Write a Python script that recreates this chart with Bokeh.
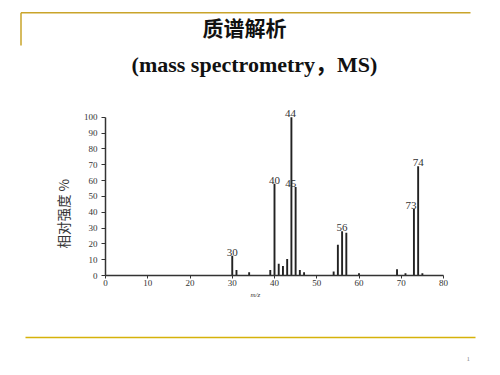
import math
from bokeh.plotting import figure
from bokeh.models import Range1d, Label, ColumnDataSource, LabelSet, FixedTicker, Title
from bokeh.layouts import column, row
from bokeh.core.properties import value
from bokeh.embed import file_html
from bokeh.resources import INLINE

# ---- data ----
mz = [30, 31, 34, 39, 40, 41, 42, 43, 44, 45, 46, 47, 54, 55, 56, 57, 60, 69, 71, 73, 74, 75]
intensity = [12.5, 3.5, 2, 3.5, 58, 7.5, 6, 10.5, 100, 56, 3.5, 2, 2.5, 19.5, 28, 27, 1.5, 4, 1.5, 42, 69, 1.5]
peak_labels = ["30", "40", "44", "45", "56", "73", "74"]
peak_label_mz = [30, 40, 44, 45, 56, 73, 74]
peak_label_int = [12.5, 58, 100, 56, 28, 42, 69]
x_ticks = [0, 10, 20, 30, 40, 50, 60, 70, 80]
y_ticks = [0, 10, 20, 30, 40, 50, 60, 70, 80, 90, 100]
title_text = "质谱解析"
subtitle_text = "(mass spectrometry，MS)"
y_label_text = "相对强度 %"
x_label_text = "m/z"
page_number = "1"

W = 500
GOLD = "#C9A42A"
YELLOW = "#D6B20A"

def blank(height, y0, y1):
    f = figure(width=W, height=height, x_range=Range1d(0, W), y_range=Range1d(y1, y0),
               output_backend="svg", toolbar_location=None, min_border=0)
    f.axis.visible = False
    f.grid.visible = False
    f.outline_line_color = None
    f.background_fill_color = "white"
    f.border_fill_color = "white"
    return f

# ---- header ----
header = blank(95, 0, 95)
header.segment(x0=[20.5, 20.5], y0=[12.3, 12.3], x1=[470, 20.5], y1=[12.3, 45],
               line_color=GOLD, line_width=1.5)
header.add_layout(Label(x=244, y=26, text=title_text, text_font="Noto Sans CJK SC",
                       text_font_size="21px", text_font_style="bold", text_align="center",
                       text_baseline="middle", text_color="#111111"))
header.add_layout(Label(x=254, y=64, text=subtitle_text,
                       text_font="Liberation Serif, Noto Sans CJK SC",
                       text_font_size="22px", text_font_style="bold", text_align="center",
                       text_baseline="middle", text_color="#111111"))

# ---- chart ----
p = figure(width=W, height=210, x_range=Range1d(0, 80), y_range=Range1d(0, 110),
           output_backend="svg", toolbar_location=None,
           min_border_left=105, min_border_right=57, min_border_top=6, min_border_bottom=30)
p.grid.visible = False
p.outline_line_color = None
p.background_fill_color = "white"
p.border_fill_color = "white"

src = ColumnDataSource(dict(mz=mz, y0=[0] * len(mz), inten=intensity))
p.segment(x0="mz", y0="y0", x1="mz", y1="inten", source=src, line_color="#222222", line_width=1.9)

lsrc = ColumnDataSource(dict(x=peak_label_mz, y=peak_label_int, t=peak_labels,
                             dx=[0, 0, -1, -5, 0, -3, 0]))
p.add_layout(LabelSet(x="x", y="y", text="t", x_offset="dx", y_offset=0, source=lsrc,
                      text_font=value("Liberation Serif"), text_font_size="11px",
                      text_align="center", text_baseline="bottom", text_color="#333333"))

p.xaxis.ticker = FixedTicker(ticks=x_ticks)
p.yaxis.ticker = FixedTicker(ticks=y_ticks)
p.yaxis.bounds = (0, 100)
for ax in (p.xaxis, p.yaxis):
    ax.axis_line_color = "#333333"
    ax.axis_line_width = 1.5
    ax.major_tick_line_color = "#333333"
    ax.major_tick_in = 0
    ax.minor_tick_line_color = None
    ax.major_label_text_font = "Liberation Serif"
    ax.major_label_text_font_size = "9px"
    ax.major_label_text_color = "#333333"
p.xaxis.major_tick_out = 3
p.xaxis.major_label_standoff = 1
p.yaxis.major_tick_out = 4
p.yaxis.major_label_standoff = 4

# axis titles placed in the side panels, shifted along the axis as in the reference
p.add_layout(Title(text=y_label_text, align="left", offset=27, standoff=15,
                   text_font="Noto Sans CJK SC", text_font_size="13.5px",
                   text_font_style="normal", text_color="#333333"), "left")
p.add_layout(Title(text=x_label_text, align="left", offset=145, standoff=0,
                   text_font="Liberation Serif", text_font_size="7px",
                   text_font_style="italic", text_color="#333333"), "below")

# ---- footer ----
footer = blank(70, 305, 375)
footer.segment(x0=[25], y0=[337], x1=[475], y1=[337], line_color=YELLOW, line_width=1.5)
footer.add_layout(Label(x=467.7, y=358.7, text=page_number, text_font="Liberation Serif",
                       text_font_size="7px", text_align="center", text_baseline="middle",
                       text_color="#888888"))

layout = column(row(header), row(p), row(footer), spacing=0)
open("out.html", "w").write(file_html(layout, INLINE))
